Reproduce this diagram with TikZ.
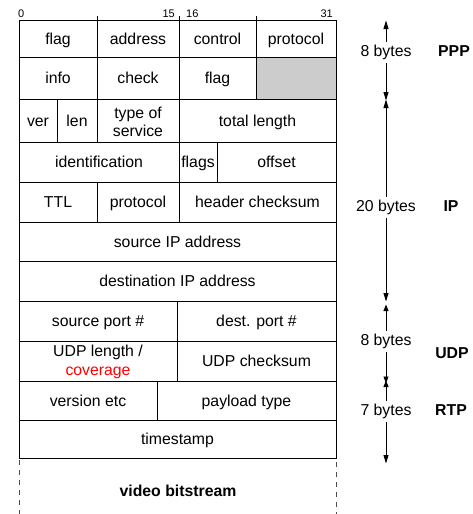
\documentclass[tikz,border=0pt]{standalone}
\usepackage{fontspec}
\setmainfont{Liberation Sans}
\usetikzlibrary{arrows.meta}
\begin{document}
\begin{tikzpicture}[x=1pt,y=-1pt,
  grid/.style={draw=black,line width=0.9pt},
  lbl/.style={font=\fontsize{15.8}{18}\selectfont,inner sep=0pt,align=center,text height=11.4pt,text depth=0.4pt},
  lbltwo/.style={font=\fontsize{15.8}{18}\selectfont,inner sep=0pt,align=center},
  bitlbl/.style={font=\fontsize{11}{12}\selectfont,inner sep=0pt},
  side/.style={font=\fontsize{15.8}{18}\selectfont,inner sep=3pt,text height=11.4pt,text depth=3.2pt},
  layer/.style={font=\fontsize{15.8}{18}\selectfont\bfseries,inner sep=0pt,text height=11.4pt,text depth=0.4pt},
  arr/.style={line width=0.9pt,-{Triangle[length=8.5pt,width=5pt]}},
  sarr/.style={line width=0.9pt,-{Triangle[length=6.5pt,width=5pt]}},
  dashline/.style={draw=black!70,line width=0.9pt,dash pattern=on 5pt off 5pt}]
\useasboundingbox (0,0) rectangle (473,514);
% cell macro: name, x1, y1, x2, y2, text
\newcommand\cellbox[6]{%
  \draw[grid] (#2,#3) rectangle (#4,#5);
  \node[lbl] (#1) at ({(#2+#4)/2},{(#3+#5)/2}) {#6};}
\newcommand\cellboxtwo[6]{%
  \draw[grid] (#2,#3) rectangle (#4,#5);
  \node[lbltwo] (#1) at ({(#2+#4)/2},{(#3+#5)/2+1}) {#6};}
% bit labels
\node[bitlbl,anchor=base west] (b0) at (18,17) {0};
\node[bitlbl,anchor=base east] (b15) at (175,17) {15};
\node[bitlbl,anchor=base west] (b16) at (186,17) {16};
\node[bitlbl,anchor=base east] (b31) at (333,17) {31};
% PPP rows
\fill[black!20] (256,57) rectangle (336,99);
\cellbox{flagA}{19}{20}{97}{57}{flag}
\cellbox{addr}{97}{20}{179}{57}{address}
\cellbox{ctrl}{179}{20}{256}{57}{control}
\cellbox{protA}{256}{20}{336}{57}{protocol}
\cellbox{info}{19}{57}{97}{99}{info}
\cellbox{check}{97}{57}{179}{99}{check}
\cellbox{flagB}{179}{57}{256}{99}{flag}
\draw[grid] (256,57) rectangle (336,99);
\draw[grid] (97,20) -- (97,16) (179,20) -- (179,16) (256,20) -- (256,16);
% IP rows
\cellbox{ver}{19}{99}{57}{142}{ver}
\cellbox{len}{57}{99}{97}{142}{len}
\cellboxtwo{tos}{97}{99}{179}{142}{type of\\[0pt]service}
\cellbox{tlen}{179}{99}{336}{142}{total length}
\cellbox{ident}{19}{142}{179}{182}{identification}
\cellbox{flags}{179}{142}{217}{182}{flags}
\cellbox{offset}{217}{142}{336}{182}{offset}
\cellbox{ttl}{19}{182}{97}{222}{TTL}
\cellbox{protB}{97}{182}{179}{222}{protocol}
\cellbox{hcs}{179}{182}{336}{222}{header checksum}
\cellbox{srcip}{19}{222}{336}{261}{source IP address}
\cellbox{dstip}{19}{261}{336}{301}{destination IP address}
% UDP rows
\cellbox{sport}{19}{301}{177}{341}{source port \#}
\cellbox{dport}{177}{301}{336}{341}{dest. port \#}
\cellboxtwo{ulen}{19}{341}{177}{381}{UDP length /\\[1pt]\textcolor{red}{coverage}}
\cellbox{ucs}{177}{341}{336}{381}{UDP checksum}
% RTP rows
\cellbox{vers}{19}{381}{157}{420}{version etc}
\cellbox{ptype}{157}{381}{336}{420}{payload type}
\cellbox{tstamp}{19}{420}{336}{458}{timestamp}
% video bitstream
\draw[dashline] (19,460) -- (19,514);
\draw[dashline] (336,462) -- (336,514);
\node[layer] (video) at (178,491) {video bitstream};
% side arrows
\node[side] (s8a) at (386,52.7) {8 bytes};
\node[side] (s20) at (386,207) {20 bytes};
\node[side] (s8b) at (386,341.5) {8 bytes};
\node[side] (s7) at (386,411) {7 bytes};
\coordinate (p1) at (386,20.5);
\coordinate (p2) at (386,100.5);
\coordinate (p3) at (386,99.5);
\coordinate (p4) at (386,301.5);
\coordinate (p5) at (386,304.5);
\coordinate (p6) at (386,383);
\coordinate (p7) at (386,380.5);
\coordinate (p8) at (386,463.5);
\draw[arr] (s8a) -- (p1);
\draw[arr] (s8a) -- (p2);
\draw[arr] (s20) -- (p3);
\draw[arr] (s20) -- (p4);
\draw[sarr] (s8b) -- (p5);
\draw[sarr] (s8b) -- (p6);
\draw[sarr] (s7) -- (p7);
\draw[arr] (s7) -- (p8);
\node[layer] (ppp) at (454,50.5) {PPP};
\node[layer] (ip) at (451,205.5) {IP};
\node[layer] (udp) at (452,353) {UDP};
\node[layer] (rtp) at (451,410) {RTP};
\end{tikzpicture}
\end{document}
